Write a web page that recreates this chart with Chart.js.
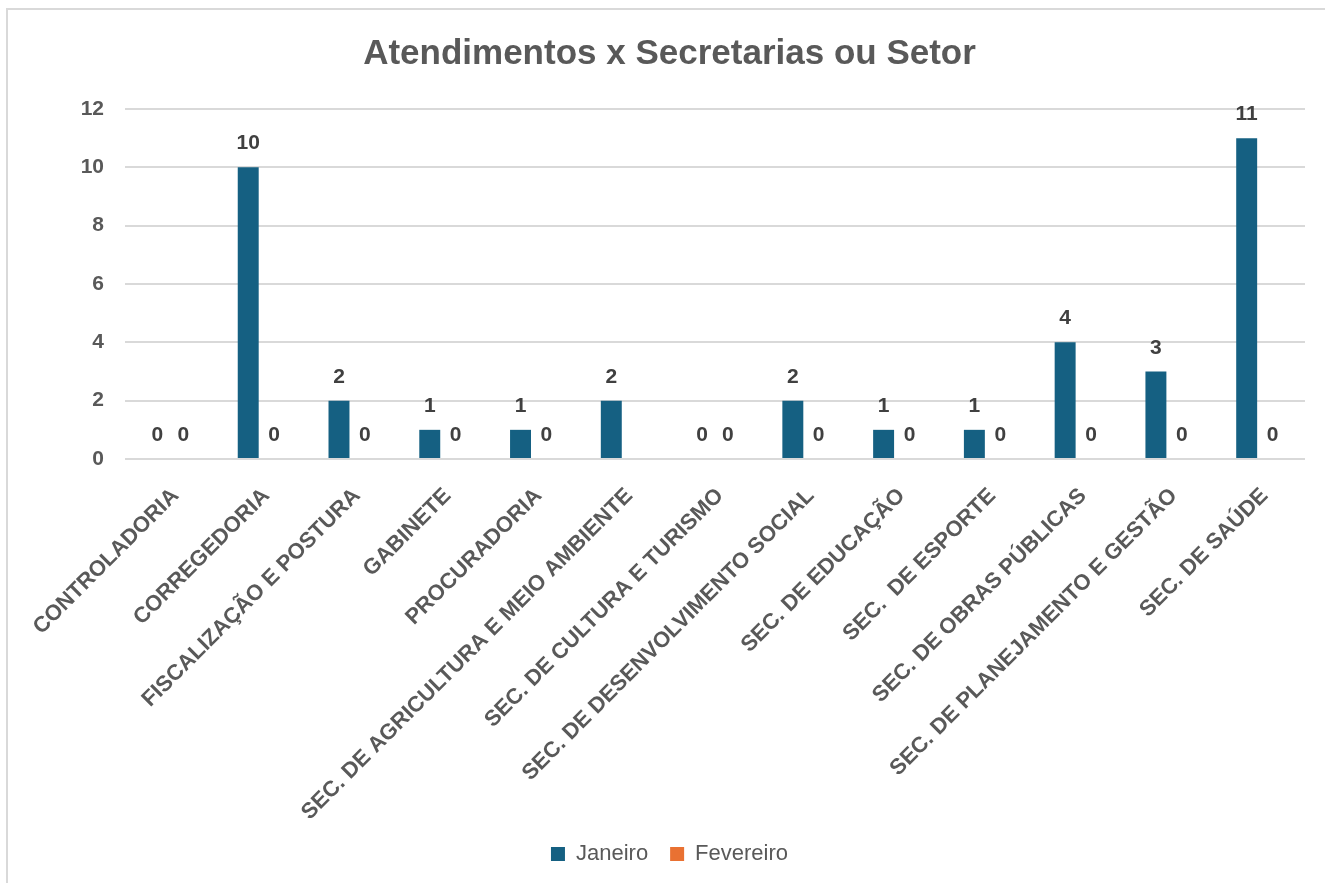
<!DOCTYPE html>
<html>
<head>
<meta charset="utf-8">
<script src="https://cdn.jsdelivr.net/npm/chart.js@4"></script>
<style>
  html, body { margin: 0; padding: 0; background: #ffffff; overflow: hidden; }
  #frame { position: absolute; left: 6px; top: 8px; width: 1400px; height: 1000px;
           border-left: 2px solid #d9d9d9; border-top: 2px solid #d9d9d9; }
  #wrap { position: absolute; left: 0; top: 0; width: 1325px; height: 883px; }
</style>
</head>
<body>
<div id="frame"></div>
<div id="wrap"><canvas id="c" width="1325" height="883"></canvas></div>
<script>
const categories = [
  "CONTROLADORIA",
  "CORREGEDORIA",
  "FISCALIZAÇÃO E POSTURA",
  "GABINETE",
  "PROCURADORIA",
  "SEC. DE AGRICULTURA E MEIO AMBIENTE",
  "SEC. DE CULTURA E TURISMO",
  "SEC. DE DESENVOLVIMENTO SOCIAL",
  "SEC. DE EDUCAÇÃO",
  "SEC.  DE ESPORTE",
  "SEC. DE OBRAS PÚBLICAS",
  "SEC. DE PLANEJAMENTO E GESTÃO",
  "SEC. DE SAÚDE"
];
const janeiro   = [0, 10, 2, 1, 1, 2, 0, 2, 1, 1, 4, 3, 11];
const fevereiro = [0, 0, 0, 0, 0, null, 0, 0, 0, 0, 0, 0, 0];
const yTicks = [0, 2, 4, 6, 8, 10, 12];

const FONT = "'Liberation Sans', Arial, sans-serif";

const valueLabels = {
  id: 'valueLabels',
  afterDatasetsDraw(chart) {
    const ctx = chart.ctx;
    ctx.save();
    ctx.font = "bold 21px " + FONT;
    ctx.fillStyle = '#404040';
    ctx.textAlign = 'center';
    ctx.textBaseline = 'alphabetic';
    chart.data.datasets.forEach((ds, di) => {
      const meta = chart.getDatasetMeta(di);
      meta.data.forEach((el, i) => {
        const v = ds.data[i];
        if (v === null || v === undefined) return;
        ctx.fillText(String(v), el.x, el.y - 18);
      });
    });
    ctx.restore();
  }
};

new Chart(document.getElementById('c'), {
  type: 'bar',
  data: {
    labels: categories,
    datasets: [
      { label: 'Janeiro', data: janeiro, backgroundColor: '#156082',
        categoryPercentage: 0.57, barPercentage: 0.81 },
      { label: 'Fevereiro', data: fevereiro, backgroundColor: '#E97132',
        categoryPercentage: 0.57, barPercentage: 0.81 }
    ]
  },
  options: {
    responsive: false,
    animation: false,
    layout: { padding: { left: 34, right: 20, top: 33, bottom: 8 } },
    plugins: {
      title: {
        display: true,
        text: 'Atendimentos x Secretarias ou Setor',
        color: '#595959',
        font: { family: FONT, size: 35, weight: 'bold' },
        padding: { top: 0, bottom: 34 }
      },
      legend: {
        position: 'bottom',
        labels: {
          color: '#595959',
          font: { family: FONT, size: 22 },
          boxWidth: 14, boxHeight: 14, padding: 22
        }
      },
      tooltip: { enabled: false }
    },
    scales: {
      x: {
        grid: { display: false },
        border: { display: false },
        afterFit: (scale) => { scale.paddingLeft = 0; scale.paddingRight = 0; scale.height = 362; },
        ticks: {
          color: '#595959',
          font: { family: FONT, size: 22, weight: 'bold' },
          maxRotation: 45, minRotation: 45, padding: 16, labelOffset: 5, autoSkip: false
        }
      },
      y: {
        min: 0, max: 12,
        afterBuildTicks: (scale) => { scale.ticks = yTicks.map(v => ({ value: v })); },
        afterFit: (scale) => { scale.width = 91; },
        grid: { color: '#d9d9d9', lineWidth: 2, drawTicks: false },
        border: { display: false },
        ticks: {
          color: '#595959',
          font: { family: FONT, size: 21, weight: 'bold' },
          padding: 21
        }
      }
    }
  },
  plugins: [valueLabels]
});
</script>
</body>
</html>
